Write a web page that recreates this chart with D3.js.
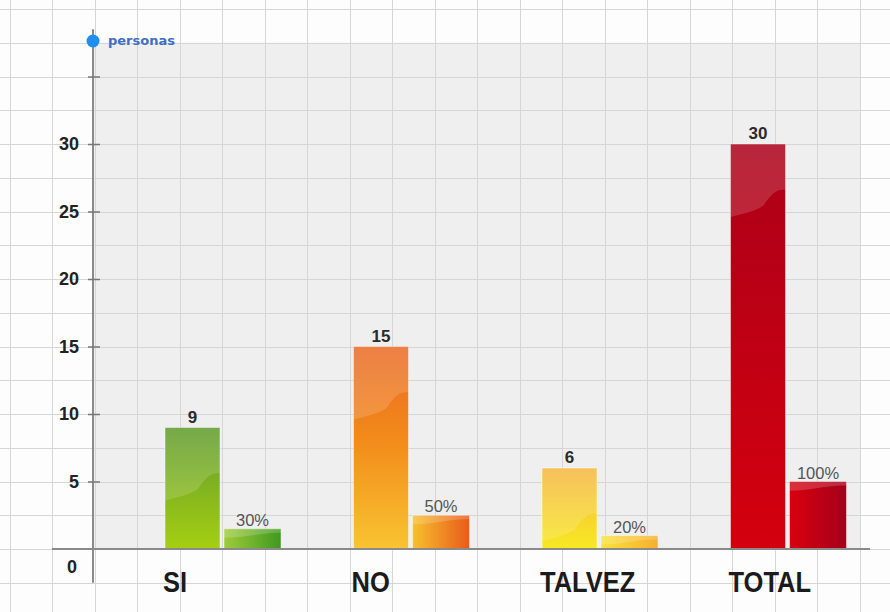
<!DOCTYPE html>
<html>
<head>
<meta charset="utf-8">
<script src="https://cdn.jsdelivr.net/npm/d3@7"></script>
<style>
  html, body { margin: 0; padding: 0; background: #fdfdfd; }
  svg { display: block; }
</style>
</head>
<body>
<script>
// data
var categorias = ["SI", "NO", "TALVEZ", "TOTAL"];
var personas = [9, 15, 6, 30];
var porcentajes = [30, 50, 20, 100];
var yTicks = [0, 5, 10, 15, 20, 25, 30, 35];

// colours per category: main bar top/bottom, percent bar left/right
var mainTop = ["#5e9a2c", "#ea6a25", "#f5b640", "#ac0019"];
var mainBottom = ["#a6cf12", "#f9c432", "#f8e923", "#d4000e"];
var pctLeft = ["#a0cc3c", "#f7c12c", "#f9e23c", "#d8000f"];
var pctRight = ["#3e991f", "#e85a1c", "#f6b02e", "#a4001a"];

var W = 890, H = 612;

var svg = d3.select("body").append("svg")
            .attr("width", W)
            .attr("height", H);

var y = d3.scaleLinear().domain([0, 35]).range([549, 76.5]);
// 100% drawn as 5 persons high
var yPct = d3.scaleLinear().domain([0, 100]).range([y(0), y(5)]);
var x = d3.scaleBand().domain(categorias).range([165, 165 + 4 * 188.5]).padding(0);

var mainW = 55, gap = 4, pctW = 57;

// gradients
var defs = svg.append("defs");
categorias.forEach(function(c, i){
    var g = defs.append("linearGradient").attr("id", "gm" + i)
                .attr("x1", 0).attr("y1", 0).attr("x2", 0).attr("y2", 1);
    g.append("stop").attr("offset", "0%").attr("stop-color", mainTop[i]);
    if(i === 1) g.append("stop").attr("offset", "45%").attr("stop-color", "#f28a1a");
    g.append("stop").attr("offset", "100%").attr("stop-color", mainBottom[i]);

    var p = defs.append("linearGradient").attr("id", "gp" + i)
                .attr("x1", 0).attr("y1", 0).attr("x2", 1).attr("y2", 0);
    p.append("stop").attr("offset", "0%").attr("stop-color", pctLeft[i]);
    p.append("stop").attr("offset", "100%").attr("stop-color", pctRight[i]);
});

// plot area background
svg.append("rect")
   .attr("x", 93).attr("y", y(37.5))
   .attr("width", 860 - 93).attr("height", y(0) - y(37.5))
   .attr("fill", "#efefef");

// grid
var grid = svg.append("g").attr("stroke", "#d6d6d6").attr("stroke-width", 1);
grid.selectAll(".hg")
    .data(d3.range(-2.5, 42.5, 2.5))
    .enter().append("line")
    .attr("x1", 0).attr("x2", W)
    .attr("y1", function(d){ return Math.round(y(d)) + 0.5; })
    .attr("y2", function(d){ return Math.round(y(d)) + 0.5; });
grid.selectAll(".vg")
    .data(d3.range(9.5, W, 42.5))
    .enter().append("line")
    .attr("y1", 0).attr("y2", H)
    .attr("x1", function(d){ return Math.round(d) + 0.5; })
    .attr("x2", function(d){ return Math.round(d) + 0.5; });

// main bars
var bars = svg.append("g");
bars.selectAll(".main")
    .data(personas)
    .enter().append("rect")
    .attr("class", "main")
    .attr("x", function(d, i){ return x(categorias[i]); })
    .attr("y", function(d){ return y(d); })
    .attr("width", mainW)
    .attr("height", function(d){ return y(0) - y(d); })
    .attr("fill", function(d, i){ return "url(#gm" + i + ")"; })
    .attr("stroke", "rgba(255,255,255,0.45)")
    .attr("stroke-width", 1);

// highlight wave on top of the main bars
bars.selectAll(".wave")
    .data(personas)
    .enter().append("path")
    .attr("class", "wave")
    .attr("d", function(d, i){
        var x0 = x(categorias[i]), y0 = y(d), w = mainW;
        var h = y(0) - y0;
        var a = Math.min(73, h), b = Math.min(46, h);
        return "M" + x0 + "," + y0 + " H" + (x0 + w) + " V" + (y0 + b) +
               " C" + (x0 + 0.85 * w) + "," + (y0 + b - 1) + " " + (x0 + 0.75 * w) + "," + (y0 + b + 3) + " " + (x0 + 0.6 * w) + "," + (y0 + (a + b) / 2 + 2) +
               " C" + (x0 + 0.45 * w) + "," + (y0 + a - 6) + " " + (x0 + 0.3 * w) + "," + (y0 + a - 4) + " " + x0 + "," + (y0 + a) + " Z";
    })
    .attr("fill", "#fff")
    .attr("fill-opacity", 0.15);

// percent bars
bars.selectAll(".pct")
    .data(porcentajes)
    .enter().append("rect")
    .attr("class", "pct")
    .attr("x", function(d, i){ return x(categorias[i]) + mainW + gap; })
    .attr("y", function(d){ return yPct(d); })
    .attr("width", pctW)
    .attr("height", function(d){ return yPct(0) - yPct(d); })
    .attr("fill", function(d, i){ return "url(#gp" + i + ")"; })
    .attr("stroke", "rgba(255,255,255,0.45)")
    .attr("stroke-width", 1);

bars.selectAll(".pwave")
    .data(porcentajes)
    .enter().append("path")
    .attr("class", "pwave")
    .attr("d", function(d, i){
        var x0 = x(categorias[i]) + mainW + gap, y0 = yPct(d), w = pctW;
        return "M" + x0 + "," + y0 + " H" + (x0 + w) + " V" + (y0 + 4) +
               " C" + (x0 + 0.7 * w) + "," + (y0 + 3) + " " + (x0 + 0.4 * w) + "," + (y0 + 9) + " " + x0 + "," + (y0 + 9) + " Z";
    })
    .attr("fill", "#fff")
    .attr("fill-opacity", 0.18);

// value labels
svg.append("g").selectAll("text")
   .data(personas)
   .enter().append("text")
   .attr("x", function(d, i){ return x(categorias[i]) + mainW / 2; })
   .attr("y", function(d){ return y(d) - 5; })
   .attr("text-anchor", "middle")
   .style("font-family", "'Liberation Sans', Arial, sans-serif")
   .style("font-weight", "bold")
   .style("font-size", "17px")
   .style("fill", "#2b2b2b")
   .text(function(d){ return d; });

svg.append("g").selectAll("text")
   .data(porcentajes)
   .enter().append("text")
   .attr("x", function(d, i){ return x(categorias[i]) + mainW + gap + pctW / 2; })
   .attr("y", function(d){ return yPct(d) - 3; })
   .attr("text-anchor", "middle")
   .style("font-family", "'Liberation Sans', Arial, sans-serif")
   .style("font-size", "16.5px")
   .style("fill", "#555")
   .text(function(d){ return d + "%"; });

// axes lines
svg.append("line")
   .attr("x1", 52).attr("x2", 870)
   .attr("y1", y(0)).attr("y2", y(0))
   .attr("stroke", "#8a8a8a").attr("stroke-width", 2);
svg.append("line")
   .attr("x1", 93).attr("x2", 93)
   .attr("y1", y(38.5)).attr("y2", y(-2.5))
   .attr("stroke", "#8a8a8a").attr("stroke-width", 2);

var yAxis = d3.axisLeft(y).tickValues(yTicks).tickSize(5).tickPadding(9);
var ax = svg.append("g").attr("transform", "translate(93,0)").call(yAxis);
ax.select(".domain").remove();
ax.selectAll(".tick line").attr("x1", 7).attr("stroke", "#777").attr("stroke-width", 1.5);
ax.selectAll(".tick text")
  .style("font-family", "'Liberation Sans', Arial, sans-serif")
  .style("font-weight", "bold")
  .style("font-size", "18px")
  .style("fill", "#222")
  .text(function(d){ return d === 35 ? "" : d; });
ax.selectAll(".tick").filter(function(d){ return d === 0; })
  .each(function(){
      d3.select(this).select("line").remove();
      d3.select(this).select("text").attr("x", -16).attr("dy", "1.3em");
  });

// category labels (condensed look)
svg.append("g").selectAll("text")
   .data(categorias)
   .enter().append("text")
   .attr("transform", function(d){ return "translate(" + (x(d) - 2) + ",592) scale(0.85,1)"; })
   .style("font-family", "'Liberation Sans', Arial, sans-serif")
   .style("font-weight", "bold")
   .style("font-size", "30px")
   .style("fill", "#1b1b1b")
   .text(function(d){ return d; });

// legend
svg.append("circle")
   .attr("cx", 93).attr("cy", 41)
   .attr("r", 6.5)
   .attr("fill", "#1e8ff0");
svg.append("text")
   .attr("x", 108).attr("y", 45)
   .style("font-family", "'DejaVu Sans', sans-serif")
   .style("font-weight", "bold")
   .style("font-size", "13px")
   .style("fill", "#3f6fc0")
   .text("personas");
</script>
</body>
</html>
